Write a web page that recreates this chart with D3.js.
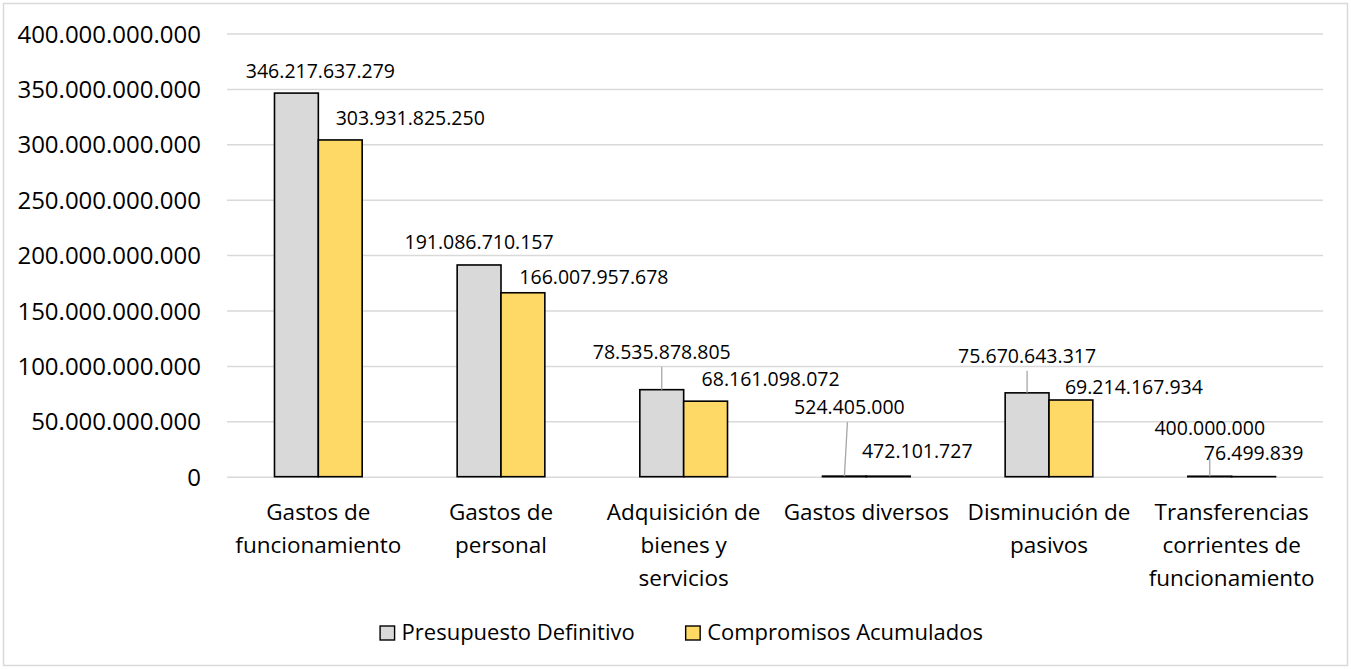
<!DOCTYPE html>
<html>
<head>
<meta charset="utf-8">
<script src="https://cdn.jsdelivr.net/npm/d3@7"></script>
<style>
  html, body { margin: 0; padding: 0; background: #ffffff; }
  svg { display: block; font-family: "Open Sans", "Noto Sans", sans-serif; }
</style>
</head>
<body>
<svg id="chart" width="1351" height="669"></svg>
<script>
// ---- Data ----
const categories = [
  "Gastos de funcionamiento",
  "Gastos de personal",
  "Adquisición de bienes y servicios",
  "Gastos diversos",
  "Disminución de pasivos",
  "Transferencias corrientes de funcionamiento"
];
const seriesNames = ["Presupuesto Definitivo", "Compromisos Acumulados"];
const presupuestoDefinitivo = [346217637279, 191086710157, 78535878805, 524405000, 75670643317, 400000000];
const compromisosAcumulados = [303931825250, 166007957678, 68161098072, 472101727, 69214167934, 76499839];
const yTickValues = [0, 50e9, 100e9, 150e9, 200e9, 250e9, 300e9, 350e9, 400e9];

// ---- Layout of the hand-placed value labels (offset of label centre from bar top centre) ----
const presupuestoLabelShift = [[24, -22], [0, -23], [0, -38], [5, -69], [0, -37], [0, -48]];
const compromisosLabelShift = [[70, -22], [71, -16], [65, -22], [29, -25], [63, -13], [0, -24]];
// leader line start below the label centre (null = no leader line)
const presupuestoLeader = [null, null, 15, 15, 15, 30];

const seriesValues = [presupuestoDefinitivo, compromisosAcumulados];
const seriesShift = [presupuestoLabelShift, compromisosLabelShift];
const seriesFill = ["#d9d9d9", "#ffd966"];

const W = 1351, H = 669;
const plot = { left: 227, right: 1323, top: 33.5, bottom: 476.7 };

const locale = d3.formatLocale({ decimal: ",", thousands: ".", grouping: [3], currency: ["$", ""] });
const fmt = locale.format(",d");

const svg = d3.select("#chart");

// outer frame
svg.append("rect")
  .attr("x", 3.5).attr("y", 3.5)
  .attr("width", W - 7).attr("height", H - 7)
  .attr("fill", "#ffffff").attr("stroke", "#d9d9d9").attr("stroke-width", 1.5);

const x0 = d3.scaleBand().domain(categories)
  .range([plot.left, plot.right]).paddingInner(0.52).paddingOuter(0.26);
const x1 = d3.scaleBand().domain(seriesNames).range([0, x0.bandwidth()]);
const y = d3.scaleLinear().domain([0, 400e9]).range([plot.bottom, plot.top]);

// y axis with gridlines
const yAxis = d3.axisLeft(y)
  .tickValues(yTickValues)
  .tickSize(-(plot.right - plot.left))
  .tickPadding(26)
  .tickFormat(fmt);

const gy = svg.append("g")
  .attr("transform", `translate(${plot.left},0)`)
  .call(yAxis);
gy.select(".domain").remove();
gy.selectAll(".tick line").attr("stroke", "#d9d9d9").attr("stroke-width", 1.5);
gy.selectAll(".tick text")
  .attr("fill", "#000").attr("font-size", 24)
  .attr("font-family", "\"Open Sans\", \"Noto Sans\", sans-serif")
  .attr("dy", "0.36em");

// bars
const groups = svg.append("g").selectAll("g")
  .data(categories)
  .join("g")
  .attr("transform", d => `translate(${x0(d)},0)`);

groups.selectAll("rect")
  .data((c, i) => seriesNames.map((s, k) => ({ s, k, v: seriesValues[k][i] })))
  .join("rect")
  .attr("x", d => x1(d.s))
  .attr("width", x1.bandwidth())
  .attr("y", d => y(d.v))
  .attr("height", d => y(0) - y(d.v))
  .attr("fill", d => seriesFill[d.k])
  .attr("stroke", "#000")
  .attr("stroke-width", 1.6);

// value labels and leader lines
const labelLayer = svg.append("g");
categories.forEach((c, i) => {
  seriesNames.forEach((s, k) => {
    const v = seriesValues[k][i];
    const cx = x0(c) + x1(s) + x1.bandwidth() / 2;
    const top = y(v);
    const [dx, dy] = seriesShift[k][i];
    const lx = cx + dx, ly = top + dy;
    if (k === 0 && presupuestoLeader[i] !== null) {
      labelLayer.append("line")
        .attr("x1", lx - (dx > 0 ? 2 : 0)).attr("y1", ly + presupuestoLeader[i])
        .attr("x2", cx).attr("y2", top)
        .attr("stroke", "#a6a6a6").attr("stroke-width", 1.3);
    }
    labelLayer.append("text")
      .attr("x", lx).attr("y", ly).attr("dy", "0.36em")
      .attr("text-anchor", "middle")
      .attr("font-size", 19.5).attr("fill", "#000")
      .text(fmt(v));
  });
});

// category labels, wrapped to the band step
const catLayer = svg.append("g");
const maxW = x0.step() - 2;
categories.forEach(c => {
  const t = catLayer.append("text")
    .attr("x", x0(c) + x0.bandwidth() / 2)
    .attr("y", 519.5)
    .attr("text-anchor", "middle")
    .attr("font-size", 22.5).attr("fill", "#000");
  const words = c.split(" ");
  let lines = [], cur = [];
  const probe = t.append("tspan");
  words.forEach(w => {
    const trial = cur.concat([w]).join(" ");
    probe.text(trial);
    if (cur.length && probe.node().getComputedTextLength() > maxW) {
      lines.push(cur.join(" "));
      cur = [w];
    } else {
      cur.push(w);
    }
  });
  lines.push(cur.join(" "));
  probe.remove();
  lines.forEach((ln, j) => {
    t.append("tspan")
      .attr("x", x0(c) + x0.bandwidth() / 2)
      .attr("y", 519.5 + j * 33.3)
      .text(ln);
  });
});

// legend
const legend = svg.append("g");
const legendBaseline = 640;
const items = [];
seriesNames.forEach((s, k) => {
  const g = legend.append("g");
  g.append("rect")
    .attr("y", 626).attr("width", 14.5).attr("height", 14)
    .attr("fill", seriesFill[k]).attr("stroke", "#000").attr("stroke-width", 1.4);
  const tx = g.append("text")
    .attr("x", 21.5).attr("y", legendBaseline)
    .attr("font-size", 22).attr("fill", "#000")
    .text(s);
  items.push({ g, w: 21.5 + tx.node().getComputedTextLength() });
});
const gap = 51;
const total = items.reduce((a, it) => a + it.w, 0) + gap * (items.length - 1);
let cursor = 681.5 - total / 2;
items.forEach(it => {
  it.g.attr("transform", `translate(${cursor},0)`);
  cursor += it.w + gap;
});
</script>
</body>
</html>
